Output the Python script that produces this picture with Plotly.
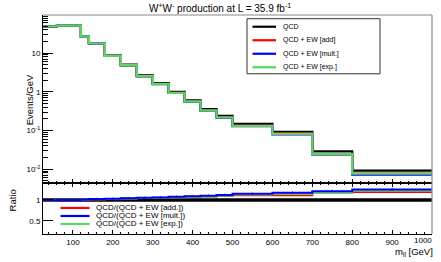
import plotly.graph_objects as go
import numpy as np

# ---------------- data ----------------
edges = [25, 60, 120, 140, 180, 220, 260, 300, 340, 380, 420, 460, 500, 600, 700, 800, 1000]
qcd      = [48.7, 51.6, 27.0, 18.1, 8.7, 5.0, 2.64, 1.68, 1.0, 0.60, 0.357, 0.240, 0.149, 0.093, 0.029, 0.0092]
ew_add   = [49.0, 51.6, 26.7, 17.8, 8.5, 4.83, 2.53, 1.59, 0.94, 0.56, 0.330, 0.220, 0.134, 0.084, 0.0246, 0.0077]
ew_mult  = [49.0, 51.6, 26.7, 17.7, 8.45, 4.80, 2.51, 1.58, 0.93, 0.55, 0.325, 0.214, 0.130, 0.079, 0.0240, 0.0072]
ew_exp   = [49.0, 51.6, 26.7, 17.8, 8.5, 4.83, 2.53, 1.59, 0.94, 0.56, 0.330, 0.218, 0.132, 0.082, 0.0248, 0.0077]

ratio_qcd  = [1.0, 1.0, 1.0, 1.0, 1.0, 1.0, 1.0, 1.0, 1.0, 1.0, 1.0, 1.0, 1.0, 1.0, 1.0, 1.0]
ratio_add  = [0.995, 1.0, 1.01, 1.015, 1.025, 1.035, 1.045, 1.055, 1.065, 1.075, 1.085, 1.095, 1.11, 1.11, 1.18, 1.19]
ratio_mult = [0.995, 1.0, 1.01, 1.02, 1.03, 1.04, 1.05, 1.06, 1.075, 1.09, 1.10, 1.12, 1.15, 1.17, 1.21, 1.25]
ratio_exp  = [0.995, 1.0, 1.01, 1.015, 1.025, 1.035, 1.045, 1.055, 1.065, 1.075, 1.085, 1.10, 1.13, 1.14, 1.17, 1.22]

top_legend = ["QCD", "QCD + EW [add]", "QCD + EW [mult.]", "QCD + EW [exp.]"]
ratio_legend = ["QCD/(QCD + EW [add.])", "QCD/(QCD + EW [mult.])", "QCD/(QCD + EW [exp.])"]
xticks = [100, 200, 300, 400, 500, 600, 700, 800, 900, 1000]
xtick_text = ["100", "200", "300", "400", "500", "600", "700", "800", "900", ""]
last_xtick_label = "1000"
ytick_vals = [0.01, 0.1, 1, 10]
ytick_text = ["10<sup>-2</sup>", "10<sup>-1</sup>", "1", "10"]

# ---------------- style ----------------
BLACK = "#000000"
RED = "#ff0000"
BLUE = "#0000ff"
GREEN = "#5fd35f"
FONT = "Liberation Sans"

W, H = 441, 262
L, R, T, B = 43, 432, 15.3, 234
def px(x): return (x - L) / (R - L)
def py(y): return (B - y) / (B - T)
split = py(183)

def step(vals):
    return list(vals) + [vals[-1]]

fig = go.Figure()
for vals, col, w in [(qcd, BLACK, 2.2), (ew_add, RED, 2.2), (ew_mult, BLUE, 2.2), (ew_exp, GREEN, 2.4)]:
    fig.add_trace(go.Scatter(x=edges, y=step(vals), mode="lines", line=dict(color=col, width=w, shape="hv"),
                             xaxis="x", yaxis="y", showlegend=False, hoverinfo="skip"))

fig.add_trace(go.Scatter(x=edges, y=step(ratio_qcd), mode="lines", line=dict(color=BLACK, width=3.5, shape="hv"),
                         xaxis="x2", yaxis="y2", showlegend=False, hoverinfo="skip"))
for vals, col in [(ratio_add, RED), (ratio_exp, GREEN), (ratio_mult, BLUE)]:
    fig.add_trace(go.Scatter(x=edges, y=step(vals), mode="lines", line=dict(color=col, width=2, shape="hv"),
                             xaxis="x2", yaxis="y2", showlegend=False, hoverinfo="skip"))
centers = [(a + b) / 2 for a, b in zip(edges[:-1], edges[1:])]
fig.add_trace(go.Scatter(x=centers, y=ratio_mult, mode="markers",
                         marker=dict(color=BLUE, size=3, symbol="triangle-up"),
                         xaxis="x2", yaxis="y2", showlegend=False, hoverinfo="skip"))

axfont = dict(family=FONT, size=8, color="#000")
fig.update_layout(
    width=W, height=H,
    margin=dict(l=L, r=W - R, t=T, b=H - B),
    paper_bgcolor="white", plot_bgcolor="white",
    font=dict(family=FONT, color="#000"),
    showlegend=False,
    xaxis=dict(domain=[0, 1], anchor="y", range=[25, 1000], showgrid=False, zeroline=False,
               showline=True, linecolor=BLACK, linewidth=1.3, ticks="inside", ticklen=4, tickcolor=BLACK,
               tickvals=xticks, showticklabels=False,
               minor=dict(ticks="inside", ticklen=2, dtick=20, tick0=0, tickcolor=BLACK)),
    yaxis=dict(domain=[split, 1], anchor="x", type="log", range=[np.log10(0.00443), 1.983], showgrid=False,
               zeroline=False, showline=True, linecolor=BLACK, linewidth=1, ticks="inside", ticklen=10,
               tickcolor=BLACK, tickvals=ytick_vals, ticktext=ytick_text, tickfont=axfont,
               minor=dict(ticks="inside", ticklen=5, tickcolor=BLACK, tickmode="array",
                          tickvals=[m * d for d in [0.001, 0.01, 0.1, 1, 10] for m in range(2, 10)])),
    xaxis2=dict(domain=[0, 1], anchor="y2", range=[25, 1000], showgrid=False, zeroline=False,
                showline=True, linecolor=BLACK, linewidth=1.3, mirror="allticks", ticks="inside", ticklen=4,
                tickcolor=BLACK, tickvals=xticks, ticktext=xtick_text, tickfont=axfont,
                minor=dict(ticks="inside", ticklen=2, dtick=20, tick0=0, tickcolor=BLACK)),
    yaxis2=dict(domain=[0, split], anchor="x2", range=[0.19, 1.405], showgrid=False, zeroline=False,
                showline=True, linecolor=BLACK, linewidth=1, ticks="inside", ticklen=10, tickcolor=BLACK,
                tickvals=[0.5, 1], ticktext=["0.5", "1"], tickfont=axfont),
)

shapes = []
# top and right frame lines (grey)
shapes.append(dict(type="line", xref="paper", yref="paper", x0=0, x1=1, y0=1, y1=1, line=dict(color="#888", width=1.2)))
shapes.append(dict(type="line", xref="paper", yref="paper", x0=1, x1=1, y0=0, y1=1, line=dict(color="#888", width=1.2)))
# top legend box
shapes.append(dict(type="rect", xref="paper", yref="paper", x0=px(247), x1=px(380), y0=py(74), y1=py(19),
                   line=dict(color="#333", width=1), fillcolor="white", layer="above"))
annots = []
for i, (lab, col) in enumerate(zip(top_legend, [BLACK, RED, BLUE, GREEN])):
    yy = 27 + 13.5 * i
    shapes.append(dict(type="line", xref="paper", yref="paper", x0=px(252.5), x1=px(276), y0=py(yy), y1=py(yy),
                       line=dict(color=col, width=2.2), layer="above"))
    annots.append(dict(text=lab, xref="paper", yref="paper", x=px(281), y=py(yy), xanchor="left", yanchor="middle",
                       showarrow=False, font=dict(family=FONT, size=7, color="#000")))
for i, (lab, col) in enumerate(zip(ratio_legend, [RED, BLUE, GREEN])):
    yy = 208 + 8 * i
    shapes.append(dict(type="line", xref="paper", yref="paper", x0=px(60.5), x1=px(89.5), y0=py(yy), y1=py(yy),
                       line=dict(color=col, width=2.2), layer="above"))
    annots.append(dict(text=lab, xref="paper", yref="paper", x=px(94), y=py(yy), xanchor="left", yanchor="middle",
                       showarrow=False, font=dict(family=FONT, size=8, color="#000")))

annots.append(dict(text=last_xtick_label, xref="paper", yref="paper", x=px(434), y=py(240), xanchor="right",
                   yanchor="middle", showarrow=False, font=axfont))
annots.append(dict(text="W<sup>+</sup>W<sup>-</sup> production at L = 35.9 fb<sup>-1</sup>", xref="paper", yref="paper",
                   x=px(220), y=py(8), xanchor="center", yanchor="middle", showarrow=False,
                   font=dict(family=FONT, size=10, color="#000")))
annots.append(dict(text="Events/GeV", xref="paper", yref="paper", x=px(29.5), y=py(100), xanchor="center",
                   yanchor="middle", textangle=-90, showarrow=False, font=dict(family=FONT, size=9.5, color="#000")))
annots.append(dict(text="Ratio", xref="paper", yref="paper", x=px(12.5), y=py(201), xanchor="center",
                   yanchor="middle", textangle=-90, showarrow=False, font=dict(family=FONT, size=9.5, color="#000")))
annots.append(dict(text="m<sub>ll</sub> [GeV]", xref="paper", yref="paper", x=px(435), y=py(252), xanchor="right",
                   yanchor="middle", showarrow=False, font=dict(family=FONT, size=9.5, color="#000")))
fig.update_layout(shapes=shapes, annotations=annots)

fig.write_html("out.html", config={"displayModeBar": False},
               post_script="document.body.style.margin='0';document.body.style.padding='0';document.body.style.overflow='hidden';")
